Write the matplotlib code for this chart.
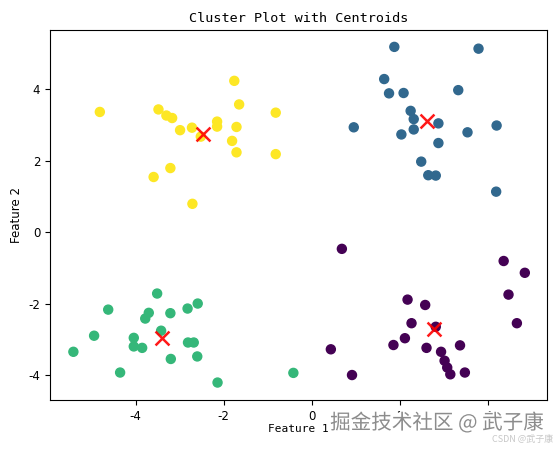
import numpy as np
import matplotlib.pyplot as plt
import matplotlib.patheffects as pe

plt.rcParams['axes.unicode_minus'] = False

# cluster 0 (purple), 1 (blue), 2 (green), 3 (yellow)
x0 = [0.68, 4.35, 4.83, 4.46, 4.65, 2.17, 2.57, 2.26, 2.81, 2.11,
      1.85, 2.60, 2.93, 3.36, 3.01, 3.07, 3.14, 3.47, 0.43, 0.91]
y0 = [-0.47, -0.81, -1.14, -1.75, -2.55, -1.89, -2.04, -2.55, -2.65, -2.97,
      -3.16, -3.24, -3.35, -3.17, -3.60, -3.79, -3.98, -3.93, -3.28, -4.00]

x1 = [1.87, 3.78, 1.64, 1.75, 2.08, 3.32, 2.24, 2.31, 2.87, 2.31,
      2.03, 0.95, 3.53, 4.19, 2.87, 2.48, 2.64, 2.81, 4.18]
y1 = [5.18, 5.13, 4.28, 3.88, 3.89, 3.97, 3.39, 3.16, 3.04, 2.87,
      2.73, 2.93, 2.79, 2.98, 2.49, 1.97, 1.59, 1.58, 1.13]

x2 = [-3.51, -4.62, -3.70, -3.78, -3.21, -2.82, -2.59, -4.94, -4.04, -3.42,
      -4.04, -3.85, -2.81, -2.68, -5.41, -3.20, -2.60, -4.35, -2.14, -0.42]
y2 = [-1.72, -2.17, -2.26, -2.42, -2.27, -2.14, -2.00, -2.90, -2.96, -2.76,
      -3.20, -3.24, -3.09, -3.09, -3.35, -3.55, -3.48, -3.93, -4.21, -3.94]

x3 = [-4.81, -1.76, -1.65, -0.82, -3.48, -3.30, -3.17, -2.99, -2.72, -2.52,
      -2.15, -2.15, -1.71, -1.81, -1.71, -0.82, -3.21, -3.59, -2.71]
y3 = [3.36, 4.23, 3.57, 3.34, 3.43, 3.26, 3.19, 2.85, 2.92, 2.67,
      3.09, 2.95, 2.94, 2.55, 2.23, 2.18, 1.79, 1.54, 0.79]

cx = [2.78, 2.61, -3.39, -2.47]
cy = [-2.71, 3.10, -2.96, 2.74]

X = np.array(x0 + x1 + x2 + x3)
Y = np.array(y0 + y1 + y2 + y3)
labels = np.array([0]*len(x0) + [1]*len(x1) + [2]*len(x2) + [3]*len(x3))

fig = plt.figure(figsize=(5.57, 4.49), dpi=100)
ax = fig.add_axes([0.0898, 0.109, 0.892, 0.824])

ax.scatter(X, Y, c=labels, cmap='viridis', s=42)
ax.scatter(cx, cy, c='red', marker='x', s=100, linewidths=1.8, alpha=0.9)

ax.set_xlim(-5.94, 5.33)
ax.set_ylim(-4.70, 5.65)
ax.set_xticks([-4, -2, 0, 2, 4])
ax.set_yticks([-4, -2, 0, 2, 4])
ax.tick_params(labelsize=8.5)

ax.set_title('Cluster Plot with Centroids', family='DejaVu Sans Mono', fontsize=9.7, pad=6)
ax.set_xlabel('Feature 1', family='DejaVu Sans Mono', fontsize=8, labelpad=1)
ax.set_ylabel('Feature 2', fontsize=8.5, labelpad=4)

# watermarks
fig.text(0.784, 0.058, '掘金技术社区 @ 武子康', family=['Noto Sans CJK SC', 'DejaVu Sans'],
         fontsize=14.8, color='#8c8c8c', ha='center', va='center',
         path_effects=[pe.withStroke(linewidth=2, foreground='white')])
fig.text(0.993, 0.022, 'CSDN @武子康', family=['Noto Sans CJK SC', 'DejaVu Sans'],
         fontsize=6.5, color='#c8c8c8', ha='right', va='center')

fig.savefig('out.png', dpi=100)
